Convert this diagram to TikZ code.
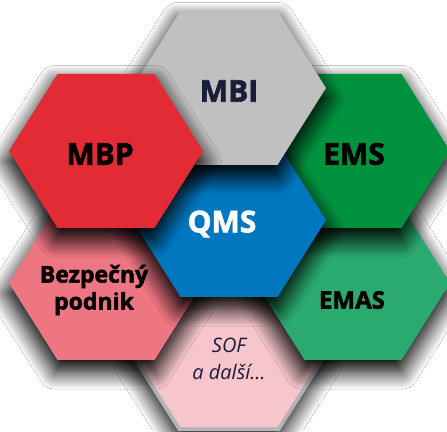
\documentclass[tikz,border=0pt]{standalone}
\usepackage{fontspec}
\usetikzlibrary{shadows.blur}
\newfontfamily\hexfont[BoldFeatures={FakeBold=2}]{Open Sans}
\definecolor{mbigray}{HTML}{C0C0C0}
\definecolor{mbpred}{HTML}{E32B35}
\definecolor{emsgreen}{HTML}{00923F}
\definecolor{qmsblue}{HTML}{0077BF}
\definecolor{bppink}{HTML}{EE7582}
\definecolor{emasgreen}{HTML}{2AAA6F}
\definecolor{sofpink}{HTML}{F7C6CC}
\definecolor{sofedge}{HTML}{B4B4B4}
\definecolor{navy}{HTML}{1B1B3A}
\newcommand\hexa[3]{\path[hexstyle, fill=#3, shift={(#1,#2)}] (-97,0) -- (-48.5,77) -- (48.5,77) -- (97,0) -- (48.5,-77) -- (-48.5,-77) -- cycle;}
\tikzset{
  hexstyle/.style={blur shadow={shadow blur radius=16pt, shadow scale=1.03, shadow xshift=-1pt, shadow yshift=-10pt, shadow opacity=100, shadow blur steps=16}},
  lbl/.style={inner sep=0pt, align=center, font=\hexfont\bfseries},
}
\begin{document}
\begin{tikzpicture}[x=1pt,y=1pt]
\fill[white] (0,0) rectangle (447,431);
\useasboundingbox (0,0) rectangle (447,431);
% SOF (lowest) with gray rim
\path[hexstyle, draw=sofedge, line width=8pt, line join=miter, fill=sofpink, shift={(229,81)}] (-97,0) -- (-48.5,77) -- (48.5,77) -- (97,0) -- (48.5,-77) -- (-48.5,-77) -- cycle;
\fill[sofpink, shift={(229,81)}] (-97,0) -- (-48.5,77) -- (48.5,77) -- (97,0) -- (48.5,-77) -- (-48.5,-77) -- cycle;
\hexa{106}{148}{bppink}
\hexa{353}{148}{emasgreen}
\hexa{353}{280}{emsgreen}
\hexa{229}{211}{qmsblue}
\hexa{229}{343}{mbigray}
\hexa{106}{280}{mbpred}
% labels
\node[lbl, text=navy, font=\hexfont\bfseries\fontsize{30}{36}\selectfont] (mbi) at (229,340) {MBI};
\node[lbl, text=black, font=\hexfont\bfseries\fontsize{30}{36}\selectfont] (mbp) at (100,277) {MBP};
\node[lbl, text=black, font=\hexfont\bfseries\fontsize{30}{36}\selectfont] (ems) at (354,277) {EMS};
\node[lbl, text=white, font=\hexfont\bfseries\fontsize{30}{36}\selectfont] (qms) at (222,207) {QMS};
\node[lbl, text=black, font=\hexfont\bfseries\fontsize{23}{27}\selectfont] (bp) at (94,141) {Bezpečný\\podnik};
\node[lbl, text=black, font=\hexfont\bfseries\fontsize{24}{30}\selectfont] (emas) at (352,131) {EMAS};
\node[lbl, text=navy, font=\hexfont\itshape\fontsize{20}{27}\selectfont] (sof) at (229,72) {SOF\\a další…};
\end{tikzpicture}
\end{document}
